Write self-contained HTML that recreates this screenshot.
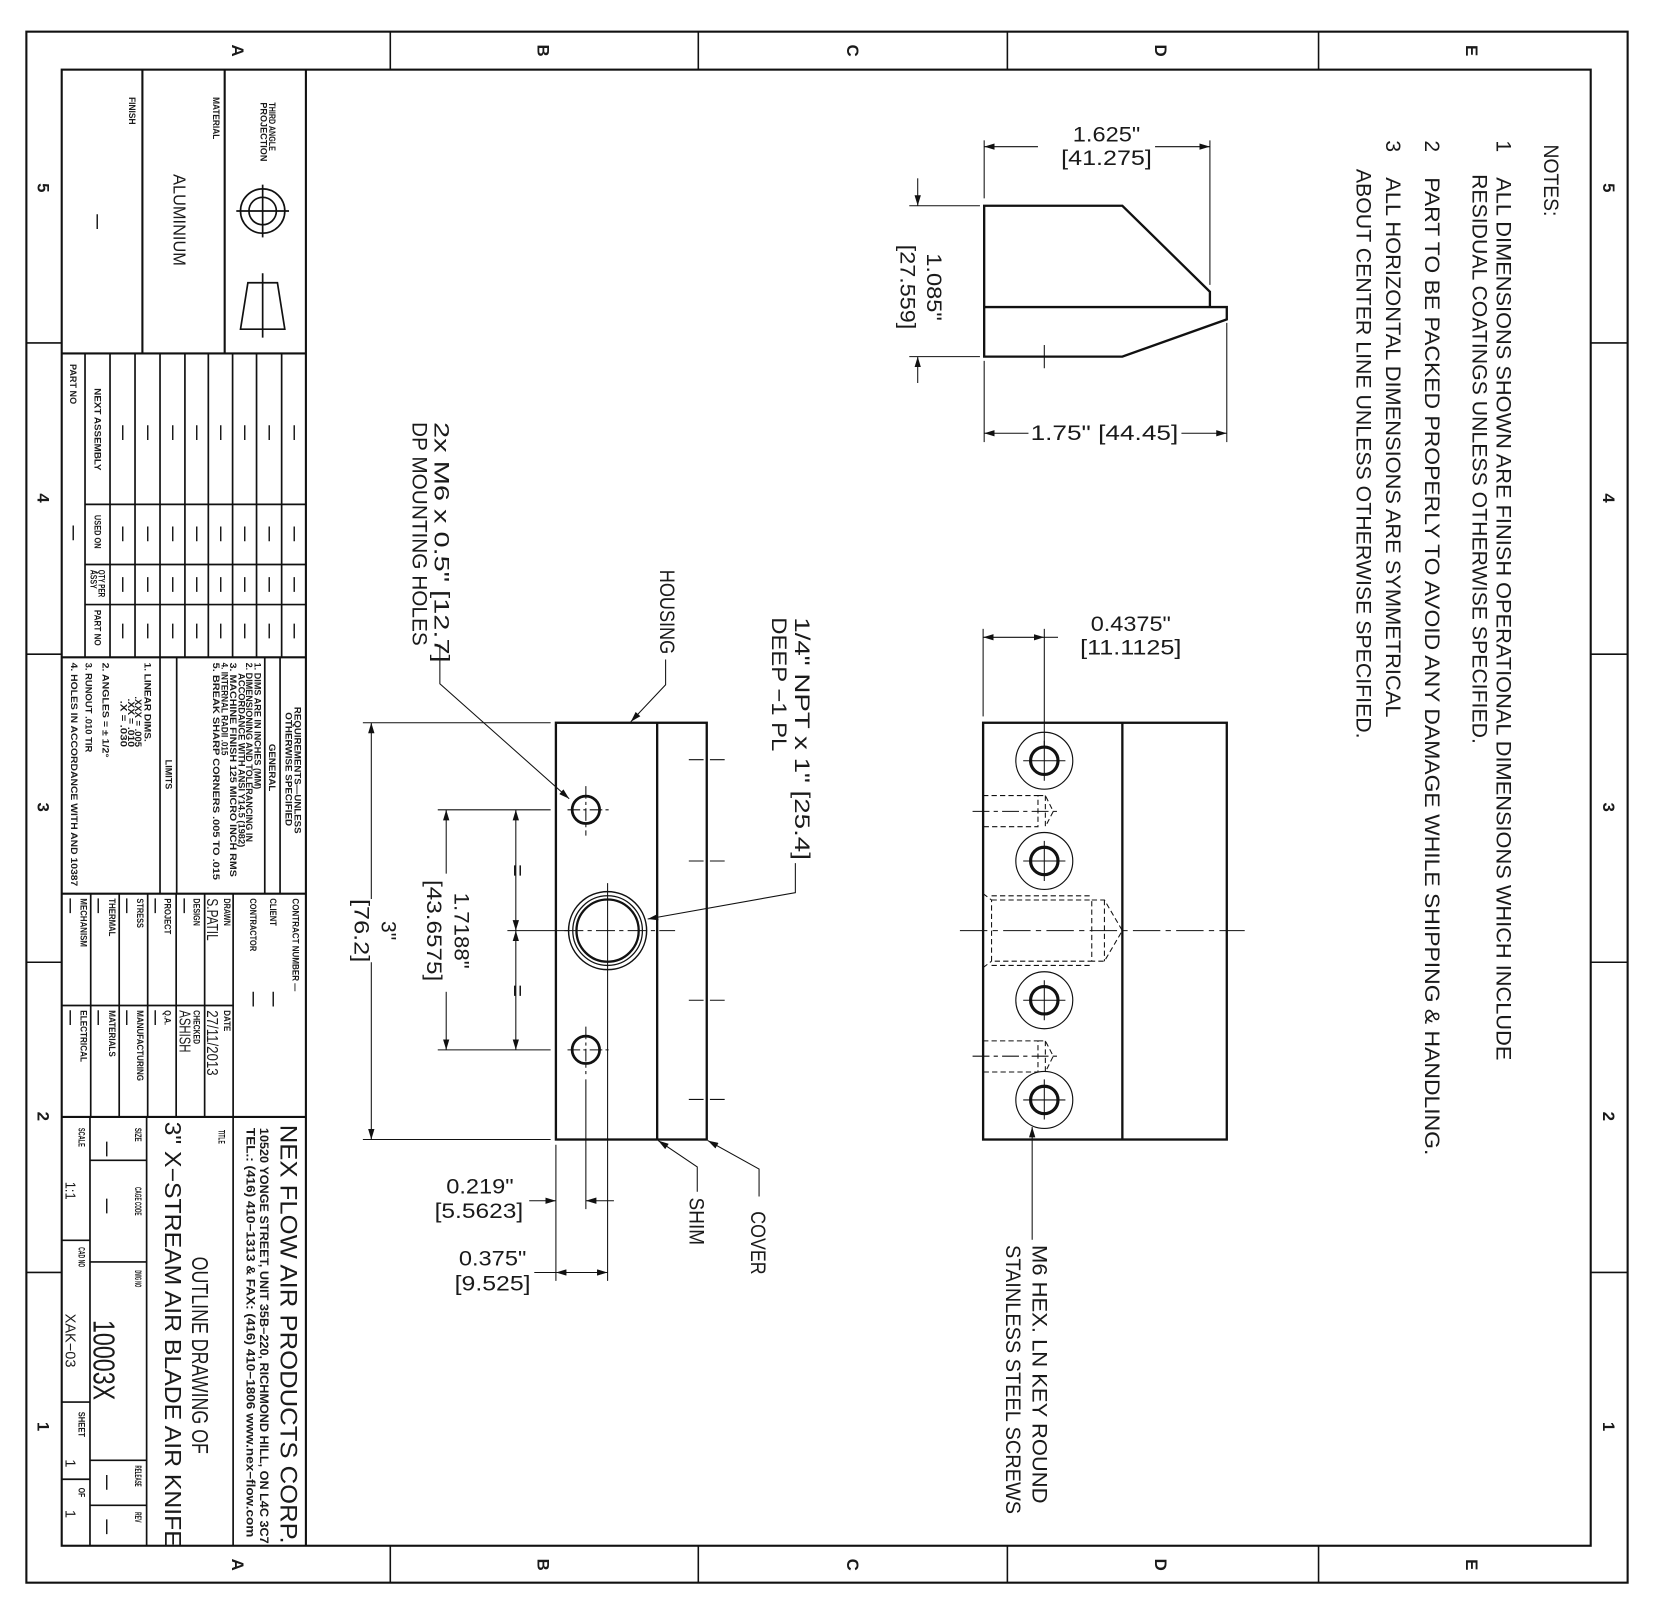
<!DOCTYPE html>
<html><head><meta charset="utf-8"><style>
html,body{margin:0;padding:0;background:#fff}
svg{display:block}
text{font-family:"Liberation Sans",sans-serif;fill:#1a1a1a}
.d{font-size:20px}
.b{font-size:8.5px;font-weight:bold}
.bl{font-size:14px;font-weight:bold}
.z{font-size:16px;font-weight:bold}
</style></head><body>
<svg width="1654" height="1608" viewBox="0 0 1568 1524" preserveAspectRatio="none" xmlns="http://www.w3.org/2000/svg">
<defs>
<marker id="a" viewBox="0 0 10 6" refX="10" refY="3" markerWidth="10" markerHeight="6" markerUnits="userSpaceOnUse" orient="auto-start-reverse"><path d="M0,0 L10,3 L0,6z" fill="#111"/></marker>
</defs>
<rect width="1568" height="1524" fill="#fff"/>
<g fill="none" stroke="#111">
<!-- borders -->
<rect x="25" y="30" width="1518" height="1470" stroke-width="2"/>
<rect x="58.5" y="66" width="1449.5" height="1399" stroke-width="2"/>
<g stroke-width="1.5">
<line x1="370" y1="30" x2="370" y2="66"/><line x1="662" y1="30" x2="662" y2="66"/><line x1="955" y1="30" x2="955" y2="66"/><line x1="1250" y1="30" x2="1250" y2="66"/>
<line x1="370" y1="1465" x2="370" y2="1500"/><line x1="662" y1="1465" x2="662" y2="1500"/><line x1="955" y1="1465" x2="955" y2="1500"/><line x1="1250" y1="1465" x2="1250" y2="1500"/>
<line x1="25" y1="325" x2="58" y2="325"/><line x1="25" y1="620" x2="58" y2="620"/><line x1="25" y1="912" x2="58" y2="912"/><line x1="25" y1="1206" x2="58" y2="1206"/>
<line x1="1508" y1="325" x2="1543" y2="325"/><line x1="1508" y1="620" x2="1543" y2="620"/><line x1="1508" y1="912" x2="1543" y2="912"/><line x1="1508" y1="1206" x2="1543" y2="1206"/>
</g>
<!-- title block -->
<g stroke-width="2">
<line x1="290" y1="66" x2="290" y2="1465"/>
<line x1="58" y1="335" x2="290" y2="335"/>
<line x1="58" y1="623" x2="290" y2="623"/>
<line x1="58" y1="847" x2="290" y2="847"/>
<line x1="58" y1="1058.6" x2="290" y2="1058.6"/>
<line x1="135" y1="66" x2="135" y2="335"/>
<line x1="213" y1="66" x2="213" y2="335"/>
</g>
<g stroke-width="1.6">
<line x1="80.6" y1="335" x2="80.6" y2="623"/>
<line x1="104.3" y1="335" x2="104.3" y2="623"/>
<line x1="128" y1="335" x2="128" y2="623"/>
<line x1="151.7" y1="335" x2="151.7" y2="623"/>
<line x1="175.3" y1="335" x2="175.3" y2="623"/>
<line x1="197.5" y1="335" x2="197.5" y2="623"/>
<line x1="220.5" y1="335" x2="220.5" y2="623"/>
<line x1="243.2" y1="335" x2="243.2" y2="623"/>
<line x1="267" y1="335" x2="267" y2="623"/>
<line x1="80.6" y1="478" x2="290" y2="478"/>
<line x1="80.6" y1="535" x2="290" y2="535"/>
<line x1="80.6" y1="573" x2="290" y2="573"/>
<!-- requirements -->
<line x1="265.5" y1="623" x2="265.5" y2="847"/>
<line x1="251" y1="623" x2="251" y2="847"/>
<line x1="167.5" y1="623" x2="167.5" y2="847"/>
<line x1="151.7" y1="623" x2="151.7" y2="847"/>
<!-- contract -->
<line x1="86" y1="847" x2="86" y2="1058.6"/>
<line x1="113" y1="847" x2="113" y2="1058.6"/>
<line x1="140" y1="847" x2="140" y2="1058.6"/>
<line x1="167" y1="847" x2="167" y2="1058.6"/>
<line x1="194" y1="847" x2="194" y2="1058.6"/>
<line x1="221" y1="847" x2="221" y2="1058.6"/>
<line x1="58" y1="953" x2="221" y2="953"/>
<!-- title area -->
<line x1="221" y1="1058.6" x2="221" y2="1465"/>
<line x1="139" y1="1058.6" x2="139" y2="1465"/>
<line x1="85.3" y1="1058.6" x2="85.3" y2="1465"/>
<line x1="85.3" y1="1099.7" x2="139" y2="1099.7"/>
<line x1="85.3" y1="1196" x2="139" y2="1196"/>
<line x1="85.3" y1="1384" x2="139" y2="1384"/>
<line x1="85.3" y1="1426.7" x2="139" y2="1426.7"/>
<line x1="58" y1="1175.5" x2="85.3" y2="1175.5"/>
<line x1="58" y1="1328.8" x2="85.3" y2="1328.8"/>
<line x1="58" y1="1402" x2="85.3" y2="1402"/>
</g>
<!-- projection symbol -->
<g stroke-width="1.6">
<circle cx="249" cy="200" r="21"/><circle cx="249" cy="200" r="13"/>
<line x1="224" y1="200" x2="274" y2="200"/><line x1="249" y1="175" x2="249" y2="225"/>
<polygon points="235,268 263,268 270,312 228,312"/>
<line x1="249" y1="259" x2="249" y2="320"/>
</g>

<!-- SIDE VIEW -->
<g stroke-width="2.2">
<polyline points="933,291 933,195 1064,195 1147,276.5 1147,291"/>
<polygon points="933,291 1163,291 1163,302.7 1064,338 933,338"/>
</g>
<g stroke-width="1">
<line x1="990" y1="327" x2="990" y2="349"/>
<line x1="933" y1="133" x2="933" y2="188"/>
<line x1="1147" y1="133" x2="1147" y2="270"/>
<line x1="933" y1="139" x2="984" y2="139" marker-start="url(#a)"/>
<line x1="1095" y1="139" x2="1147" y2="139" marker-end="url(#a)"/>
<line x1="862" y1="195" x2="929" y2="195"/>
<line x1="862" y1="338" x2="929" y2="338"/>
<line x1="870" y1="169" x2="870" y2="195" marker-end="url(#a)"/>
<line x1="870" y1="363" x2="870" y2="338" marker-end="url(#a)"/>
<line x1="933" y1="342" x2="933" y2="419"/>
<line x1="1163" y1="306" x2="1163" y2="419"/>
<line x1="933" y1="410.6" x2="975" y2="410.6" marker-start="url(#a)"/>
<line x1="1120" y1="410.6" x2="1163" y2="410.6" marker-end="url(#a)"/>
</g>

<!-- HOUSING VIEW -->
<g stroke-width="2.2">
<rect x="527" y="685" width="143" height="395"/>
<line x1="623" y1="685" x2="623" y2="1080"/>
<circle cx="555.4" cy="767.5" r="13" stroke-width="2.6"/>
<circle cx="555.4" cy="995" r="13" stroke-width="2.6"/>
<circle cx="576" cy="882" r="37" stroke-width="1.4"/>
<circle cx="576" cy="882" r="33" stroke-width="1.2"/>
<circle cx="576" cy="882" r="29.5" stroke-width="2.2"/>
</g>
<g stroke-width="1">
<line x1="538" y1="767.5" x2="580" y2="767.5" stroke-dasharray="12 3 3 3"/><line x1="555.4" y1="745" x2="555.4" y2="792" stroke-dasharray="12 3 3 3"/>
<line x1="538" y1="995" x2="580" y2="995" stroke-dasharray="12 3 3 3"/><line x1="555.4" y1="973" x2="555.4" y2="1018" stroke-dasharray="12 3 3 3"/>
<line x1="535" y1="882" x2="640" y2="882" stroke-dasharray="18 4 4 4"/>
<line x1="576" y1="837" x2="576" y2="1214" stroke-dasharray="none"/>
<line x1="555.4" y1="1023" x2="555.4" y2="1146"/>
<line x1="653" y1="720" x2="690" y2="720" stroke-dasharray="14 6"/>
<line x1="653" y1="816" x2="690" y2="816" stroke-dasharray="14 6"/>
<line x1="653" y1="948" x2="690" y2="948" stroke-dasharray="14 6"/>
<line x1="653" y1="1042" x2="690" y2="1042" stroke-dasharray="14 6"/>
<!-- 3in dim -->
<line x1="344" y1="685" x2="522" y2="685"/><line x1="344" y1="1080" x2="522" y2="1080"/>
<line x1="352" y1="852" x2="352" y2="685" marker-end="url(#a)"/>
<line x1="352" y1="912" x2="352" y2="1080" marker-end="url(#a)"/>
<!-- 1.7188 -->
<line x1="415" y1="767.5" x2="522" y2="767.5"/><line x1="415" y1="995" x2="522" y2="995"/>
<line x1="423" y1="828" x2="423" y2="767.5" marker-end="url(#a)"/>
<line x1="423" y1="940" x2="423" y2="995" marker-end="url(#a)"/>
<!-- = dims -->
<line x1="481" y1="882" x2="540" y2="882"/>
<line x1="489" y1="767.5" x2="489" y2="882" marker-start="url(#a)" marker-end="url(#a)" stroke-dasharray="none"/>
<line x1="489" y1="882" x2="489" y2="995" marker-start="url(#a)" marker-end="url(#a)"/>
<!-- leaders -->
<polyline points="417,611 417,648 539.6,757" marker-end="url(#a)"/>
<polyline points="631,625 631,649 598,684" marker-end="url(#a)"/>
<polyline points="754,818 754,846 614,871" marker-end="url(#a)"/>
<polyline points="661,1129.5 661,1106 624,1081" marker-end="url(#a)"/>
<polyline points="719.6,1134 719.6,1108 671,1081" marker-end="url(#a)"/>
<!-- 0.219 / 0.375 -->
<line x1="527" y1="1085" x2="527" y2="1214"/>
<line x1="501.7" y1="1138" x2="527" y2="1138" marker-end="url(#a)"/>
<line x1="582" y1="1138" x2="555.4" y2="1138" marker-end="url(#a)"/>
<line x1="506.5" y1="1206" x2="576" y2="1206" marker-end="url(#a)"/>
<line x1="550" y1="1206" x2="527" y2="1206" marker-end="url(#a)"/>
</g>

<!-- FRONT VIEW -->
<g stroke-width="2.2">
<rect x="932" y="685" width="231" height="395"/>
<line x1="1064" y1="685" x2="1064" y2="1080"/>
</g>
<g stroke-width="1.1">
<circle cx="990" cy="721" r="27"/><circle cx="990" cy="816" r="27"/><circle cx="990" cy="948" r="27"/><circle cx="990" cy="1042.5" r="27"/>
</g>
<g stroke-width="3">
<circle cx="990" cy="721" r="13"/><circle cx="990" cy="816" r="13"/><circle cx="990" cy="948" r="13"/><circle cx="990" cy="1042.5" r="13"/>
</g>
<g stroke-width="1">
<path d="M970,721h40M990,702v38M970,816h40M990,797v38M970,948h40M990,929v38M970,1042.5h40M990,1023v38"/>
<g stroke-dasharray="5 3">
<path d="M932,754H984V783.5H932M984,754L991,754L998.5,769L991,783.5M991,754V783.5"/>
<path d="M932,986.5H984V1016H932M984,986.5L991,986.5L998.5,1001L991,1016M991,986.5V1016"/>
<path d="M940,853H1035V911H940ZM932,847L940,853M932,917L940,911M1035,853H1047L1064,882L1047,911H1035M1047,853V911M940,849H1035M940,915H1035"/>
</g>
<line x1="922" y1="769" x2="1003" y2="769" stroke-dasharray="16 4 4 4"/>
<line x1="922" y1="1001" x2="1003" y2="1001" stroke-dasharray="16 4 4 4"/>
<line x1="910" y1="882" x2="1180" y2="882" stroke-dasharray="26 5 5 5"/>
<line x1="932" y1="596" x2="932" y2="679"/>
<line x1="990" y1="596" x2="990" y2="708"/>
<line x1="932" y1="604" x2="990" y2="604" marker-start="url(#a)" marker-end="url(#a)"/>
<line x1="990" y1="604" x2="1003" y2="604"/>
<line x1="978.5" y1="1175" x2="978.5" y2="1068" marker-end="url(#a)"/>
</g>
</g>

<!-- zone labels -->
<g class="z">
<text transform="translate(225,48) rotate(90)" text-anchor="middle" dominant-baseline="central">A</text>
<text transform="translate(515,48) rotate(90)" text-anchor="middle" dominant-baseline="central">B</text>
<text transform="translate(808,48) rotate(90)" text-anchor="middle" dominant-baseline="central">C</text>
<text transform="translate(1100,48) rotate(90)" text-anchor="middle" dominant-baseline="central">D</text>
<text transform="translate(1395,48) rotate(90)" text-anchor="middle" dominant-baseline="central">E</text>
<text transform="translate(225,1483) rotate(90)" text-anchor="middle" dominant-baseline="central">A</text>
<text transform="translate(515,1483) rotate(90)" text-anchor="middle" dominant-baseline="central">B</text>
<text transform="translate(808,1483) rotate(90)" text-anchor="middle" dominant-baseline="central">C</text>
<text transform="translate(1100,1483) rotate(90)" text-anchor="middle" dominant-baseline="central">D</text>
<text transform="translate(1395,1483) rotate(90)" text-anchor="middle" dominant-baseline="central">E</text>
<text transform="translate(41,178) rotate(90)" text-anchor="middle" dominant-baseline="central">5</text>
<text transform="translate(41,472) rotate(90)" text-anchor="middle" dominant-baseline="central">4</text>
<text transform="translate(41,765) rotate(90)" text-anchor="middle" dominant-baseline="central">3</text>
<text transform="translate(41,1058) rotate(90)" text-anchor="middle" dominant-baseline="central">2</text>
<text transform="translate(41,1352) rotate(90)" text-anchor="middle" dominant-baseline="central">1</text>
<text transform="translate(1525,178) rotate(90)" text-anchor="middle" dominant-baseline="central">5</text>
<text transform="translate(1525,472) rotate(90)" text-anchor="middle" dominant-baseline="central">4</text>
<text transform="translate(1525,765) rotate(90)" text-anchor="middle" dominant-baseline="central">3</text>
<text transform="translate(1525,1058) rotate(90)" text-anchor="middle" dominant-baseline="central">2</text>
<text transform="translate(1525,1352) rotate(90)" text-anchor="middle" dominant-baseline="central">1</text>
</g>

<!-- NOTES -->
<g class="d" dominant-baseline="central" lengthAdjust="spacingAndGlyphs">
<text transform="translate(1470,137) rotate(90)" textLength="68" lengthAdjust="spacingAndGlyphs">NOTES:</text>
<text transform="translate(1425,133) rotate(90)">1</text>
<text transform="translate(1425,168) rotate(90)" textLength="837" lengthAdjust="spacingAndGlyphs">ALL DIMENSIONS SHOWN ARE FINISH OPERATIONAL DIMENSIONS WHICH INCLUDE</text>
<text transform="translate(1402,165) rotate(90)" textLength="540" lengthAdjust="spacingAndGlyphs">RESIDUAL COATINGS UNLESS OTHERWISE SPECIFIED.</text>
<text transform="translate(1357,133) rotate(90)">2</text>
<text transform="translate(1357,168) rotate(90)" textLength="927" lengthAdjust="spacingAndGlyphs">PART TO BE PACKED PROPERLY TO AVOID ANY DAMAGE WHILE SHIPPING &amp; HANDLING.</text>
<text transform="translate(1320,133) rotate(90)">3</text>
<text transform="translate(1320,168) rotate(90)" textLength="512" lengthAdjust="spacingAndGlyphs">ALL HORIZONTAL DIMENSIONS ARE SYMMETRICAL</text>
<text transform="translate(1292,160) rotate(90)" textLength="540" lengthAdjust="spacingAndGlyphs">ABOUT CENTER LINE UNLESS OTHERWISE SPECIFIED.</text>

<!-- view labels -->
<text transform="translate(418,400) rotate(90)" textLength="228" lengthAdjust="spacingAndGlyphs">2x M6 x 0.5" [12.7]</text>
<text transform="translate(397,400) rotate(90)" textLength="212" lengthAdjust="spacingAndGlyphs">DP MOUNTING HOLES</text>
<text transform="translate(632,540) rotate(90)" textLength="80" lengthAdjust="spacingAndGlyphs">HOUSING</text>
<text transform="translate(760,585) rotate(90)" textLength="230" lengthAdjust="spacingAndGlyphs">1/4" NPT x 1" [25.4]</text>
<text transform="translate(738,585) rotate(90)" textLength="127" lengthAdjust="spacingAndGlyphs">DEEP −1 PL</text>
<text transform="translate(660,1135) rotate(90)" textLength="45" lengthAdjust="spacingAndGlyphs">SHIM</text>
<text transform="translate(718,1148) rotate(90)" textLength="60" lengthAdjust="spacingAndGlyphs">COVER</text>
<text transform="translate(985,1180) rotate(90)" textLength="245" lengthAdjust="spacingAndGlyphs">M6 HEX. LN KEY ROUND</text>
<text transform="translate(960,1180) rotate(90)" textLength="255" lengthAdjust="spacingAndGlyphs">STAINLESS STEEL SCREWS</text>
<text transform="translate(368,882) rotate(90)" text-anchor="middle">3"</text>
<text transform="translate(342,882) rotate(90)" text-anchor="middle" textLength="60" lengthAdjust="spacingAndGlyphs">[76.2]</text>
<text transform="translate(437,882) rotate(90)" text-anchor="middle" textLength="72" lengthAdjust="spacingAndGlyphs">1.7188"</text>
<text transform="translate(411,882) rotate(90)" text-anchor="middle" textLength="96" lengthAdjust="spacingAndGlyphs">[43.6575]</text>
<text transform="translate(490,825) rotate(90)" text-anchor="middle">=</text>
<text transform="translate(490,939) rotate(90)" text-anchor="middle">=</text>
<text transform="translate(885,272) rotate(90)" text-anchor="middle" textLength="64" lengthAdjust="spacingAndGlyphs">1.085"</text>
<text transform="translate(860,272) rotate(90)" text-anchor="middle" textLength="80" lengthAdjust="spacingAndGlyphs">[27.559]</text>
</g>
<g class="d" text-anchor="middle" dominant-baseline="central">
<text x="1049" y="128" textLength="64" lengthAdjust="spacingAndGlyphs">1.625"</text>
<text x="1049" y="150" textLength="86" lengthAdjust="spacingAndGlyphs">[41.275]</text>
<text x="1047" y="411" textLength="140" lengthAdjust="spacingAndGlyphs">1.75"  [44.45]</text>
<text x="1072" y="592" textLength="76" lengthAdjust="spacingAndGlyphs">0.4375"</text>
<text x="1072" y="614" textLength="96" lengthAdjust="spacingAndGlyphs">[11.1125]</text>
<text x="455" y="1125" textLength="64" lengthAdjust="spacingAndGlyphs">0.219"</text>
<text x="454" y="1148" textLength="84" lengthAdjust="spacingAndGlyphs">[5.5623]</text>
<text x="467" y="1193" textLength="64" lengthAdjust="spacingAndGlyphs">0.375"</text>
<text x="467" y="1217" textLength="72" lengthAdjust="spacingAndGlyphs">[9.525]</text>
</g>

<!-- title block text -->
<g dominant-baseline="central">
<text class="b" transform="translate(258,97) rotate(90)" textLength="46" lengthAdjust="spacingAndGlyphs">THIRD ANGLE</text>
<text class="b" transform="translate(250,97) rotate(90)" textLength="56" lengthAdjust="spacingAndGlyphs">PROJECTION</text>
<text class="b" transform="translate(205,92) rotate(90)" textLength="40" lengthAdjust="spacingAndGlyphs">MATERIAL</text>
<text class="d" style="font-size:17px" transform="translate(170,165) rotate(90)" textLength="87" lengthAdjust="spacingAndGlyphs">ALUMINIUM</text>
<text class="b" transform="translate(125,92) rotate(90)" textLength="26" lengthAdjust="spacingAndGlyphs">FINISH</text>
<text class="bl" transform="translate(92,210) rotate(90)" text-anchor="middle">—</text>

<text class="b" transform="translate(69,345) rotate(90)" textLength="38" lengthAdjust="spacingAndGlyphs">PART NO</text>
<text class="bl" transform="translate(69,505) rotate(90)" text-anchor="middle">—</text>
<text class="b" transform="translate(92.5,368) rotate(90)" textLength="78" lengthAdjust="spacingAndGlyphs">NEXT ASSEMBLY</text>
<text class="b" transform="translate(92.5,488) rotate(90)" textLength="32" lengthAdjust="spacingAndGlyphs">USED ON</text>
<text class="b" transform="translate(96,540) rotate(90)" textLength="26" lengthAdjust="spacingAndGlyphs">QTY PER</text>
<text class="b" transform="translate(88.5,540) rotate(90)" textLength="18" lengthAdjust="spacingAndGlyphs">ASSY</text>
<text class="b" transform="translate(92.5,578) rotate(90)" textLength="34" lengthAdjust="spacingAndGlyphs">PART NO</text>
</g>
<g class="bl" text-anchor="middle" dominant-baseline="central">
<text transform="translate(116,410) rotate(90)">—</text><text transform="translate(140,410) rotate(90)">—</text><text transform="translate(163.5,410) rotate(90)">—</text><text transform="translate(186.4,410) rotate(90)">—</text><text transform="translate(209,410) rotate(90)">—</text><text transform="translate(232,410) rotate(90)">—</text><text transform="translate(255,410) rotate(90)">—</text><text transform="translate(278.5,410) rotate(90)">—</text>
<text transform="translate(116,506) rotate(90)">—</text><text transform="translate(140,506) rotate(90)">—</text><text transform="translate(163.5,506) rotate(90)">—</text><text transform="translate(186.4,506) rotate(90)">—</text><text transform="translate(209,506) rotate(90)">—</text><text transform="translate(232,506) rotate(90)">—</text><text transform="translate(255,506) rotate(90)">—</text><text transform="translate(278.5,506) rotate(90)">—</text>
<text transform="translate(116,554) rotate(90)">—</text><text transform="translate(140,554) rotate(90)">—</text><text transform="translate(163.5,554) rotate(90)">—</text><text transform="translate(186.4,554) rotate(90)">—</text><text transform="translate(209,554) rotate(90)">—</text><text transform="translate(232,554) rotate(90)">—</text><text transform="translate(255,554) rotate(90)">—</text><text transform="translate(278.5,554) rotate(90)">—</text>
<text transform="translate(116,598) rotate(90)">—</text><text transform="translate(140,598) rotate(90)">—</text><text transform="translate(163.5,598) rotate(90)">—</text><text transform="translate(186.4,598) rotate(90)">—</text><text transform="translate(209,598) rotate(90)">—</text><text transform="translate(232,598) rotate(90)">—</text><text transform="translate(255,598) rotate(90)">—</text><text transform="translate(278.5,598) rotate(90)">—</text>
</g>

<!-- requirements -->
<g class="b" dominant-baseline="central">
<text transform="translate(282,670) rotate(90)" textLength="120" lengthAdjust="spacingAndGlyphs">REQUIREMENTS—UNLESS</text>
<text transform="translate(273.5,675) rotate(90)" textLength="108" lengthAdjust="spacingAndGlyphs">OTHERWISE SPECIFIED</text>
<text transform="translate(258,705) rotate(90)" textLength="45" lengthAdjust="spacingAndGlyphs">GENERAL</text>
<text transform="translate(244,628) rotate(90)" textLength="120" lengthAdjust="spacingAndGlyphs">1. DIMS ARE IN INCHES (MM)</text>
<text transform="translate(236,628) rotate(90)" textLength="170" lengthAdjust="spacingAndGlyphs">2. DIMENSIONING AND TOLERANCING IN</text>
<text transform="translate(229,638) rotate(90)" textLength="165" lengthAdjust="spacingAndGlyphs">ACCORDANCE WITH ANSI Y14.5 (1982)</text>
<text transform="translate(221,628) rotate(90)" textLength="203" lengthAdjust="spacingAndGlyphs">3. MACHINE FINISH 125 MICRO INCH RMS</text>
<text transform="translate(213,628) rotate(90)" textLength="88" lengthAdjust="spacingAndGlyphs">4. INTERNAL RADII .015</text>
<text transform="translate(205,628) rotate(90)" textLength="206" lengthAdjust="spacingAndGlyphs">5. BREAK SHARP CORNERS .005 TO .015</text>
<text transform="translate(159.6,720) rotate(90)" textLength="28" lengthAdjust="spacingAndGlyphs">LIMITS</text>
<text transform="translate(140,628) rotate(90)" textLength="75" lengthAdjust="spacingAndGlyphs">1. LINEAR DIMS.</text>
<text transform="translate(131,660) rotate(90)" textLength="48" lengthAdjust="spacingAndGlyphs">.XXX = .005</text>
<text transform="translate(124,662) rotate(90)" textLength="46" lengthAdjust="spacingAndGlyphs">.XX = .010</text>
<text transform="translate(117,664) rotate(90)" textLength="44" lengthAdjust="spacingAndGlyphs">.X = .030</text>
<text transform="translate(100,628) rotate(90)" textLength="90" lengthAdjust="spacingAndGlyphs">2. ANGLES  = ± 1/2°</text>
<text transform="translate(84,628) rotate(90)" textLength="85" lengthAdjust="spacingAndGlyphs">3. RUNOUT .010 TIR</text>
<text transform="translate(70,628) rotate(90)" textLength="212" lengthAdjust="spacingAndGlyphs">4. HOLES IN ACCORDANCE WITH AND 10387</text>
</g>

<!-- contract -->
<g class="b" dominant-baseline="central">
<text transform="translate(280,851.5) rotate(90)" textLength="88" lengthAdjust="spacingAndGlyphs">CONTRACT NUMBER —</text>
<text transform="translate(259,851.5) rotate(90)" textLength="26" lengthAdjust="spacingAndGlyphs">CLIENT</text>
<text transform="translate(240,851.5) rotate(90)" textLength="50" lengthAdjust="spacingAndGlyphs">CONTRACTOR</text>
<text transform="translate(215,851.5) rotate(90)" textLength="26" lengthAdjust="spacingAndGlyphs">DRAWN</text>
<text transform="translate(186.4,851.5) rotate(90)" textLength="26" lengthAdjust="spacingAndGlyphs">DESIGN</text>
<text transform="translate(159,851.5) rotate(90)" textLength="34" lengthAdjust="spacingAndGlyphs">PROJECT</text>
<text transform="translate(132.7,851.5) rotate(90)" textLength="28" lengthAdjust="spacingAndGlyphs">STRESS</text>
<text transform="translate(106,851.5) rotate(90)" textLength="36" lengthAdjust="spacingAndGlyphs">THERMAL</text>
<text transform="translate(79,851.5) rotate(90)" textLength="46" lengthAdjust="spacingAndGlyphs">MECHANISM</text>
<text transform="translate(215,957.5) rotate(90)" textLength="20" lengthAdjust="spacingAndGlyphs">DATE</text>
<text transform="translate(186.4,957.5) rotate(90)" textLength="32" lengthAdjust="spacingAndGlyphs">CHECKED</text>
<text transform="translate(159,957.5) rotate(90)" textLength="14" lengthAdjust="spacingAndGlyphs">Q.A.</text>
<text transform="translate(132.7,957.5) rotate(90)" textLength="67" lengthAdjust="spacingAndGlyphs">MANUFACTURING</text>
<text transform="translate(106,957.5) rotate(90)" textLength="44" lengthAdjust="spacingAndGlyphs">MATERIALS</text>
<text transform="translate(79,957.5) rotate(90)" textLength="49" lengthAdjust="spacingAndGlyphs">ELECTRICAL</text>
</g>
<g class="bl" dominant-baseline="central">
<text transform="translate(200.6,851.5) rotate(90)" textLength="40" lengthAdjust="spacingAndGlyphs" style="font-weight:normal;font-size:15px">S.PATIL</text>
<text transform="translate(200.6,957.5) rotate(90)" textLength="62" lengthAdjust="spacingAndGlyphs" style="font-weight:normal;font-size:15px">27/11/2013</text>
<text transform="translate(174.5,957.5) rotate(90)" textLength="40" lengthAdjust="spacingAndGlyphs" style="font-weight:normal;font-size:15px">ASHISH</text>
<text transform="translate(259,940) rotate(90)">—</text>
<text transform="translate(240,940) rotate(90)">—</text>
<text transform="translate(174.5,851.5) rotate(90)">—</text>
<text transform="translate(147,851.5) rotate(90)">—</text>
<text transform="translate(120,851.5) rotate(90)">—</text>
<text transform="translate(93,851.5) rotate(90)">—</text>
<text transform="translate(66.4,851.5) rotate(90)">—</text>
<text transform="translate(147,957.5) rotate(90)">—</text>
<text transform="translate(120,957.5) rotate(90)">—</text>
<text transform="translate(93,957.5) rotate(90)">—</text>
<text transform="translate(66.4,957.5) rotate(90)">—</text>
</g>

<!-- title area -->
<g dominant-baseline="central">
<text class="d" style="font-size:23px" transform="translate(273,1066) rotate(90)" textLength="397" lengthAdjust="spacingAndGlyphs">NEX FLOW AIR PRODUCTS CORP.</text>
<text class="b" style="font-size:11px" transform="translate(249.6,1069) rotate(90)" textLength="394" lengthAdjust="spacingAndGlyphs">10520 YONGE STREET, UNIT 35B−220, RICHMOND HILL, ON L4C 3C7</text>
<text class="b" style="font-size:11px" transform="translate(237,1069) rotate(90)" textLength="388" lengthAdjust="spacingAndGlyphs">TEL.: (416) 410−1313 &amp; FAX: (416) 410−1806 www.nex−flow.com</text>
<text class="b" transform="translate(210,1071) rotate(90)" textLength="13" lengthAdjust="spacingAndGlyphs">TITLE</text>
<text class="d" style="font-size:22px" transform="translate(189.6,1191) rotate(90)" textLength="187" lengthAdjust="spacingAndGlyphs">OUTLINE DRAWING OF</text>
<text class="d" style="font-size:22px" transform="translate(164,1063) rotate(90)" textLength="403" lengthAdjust="spacingAndGlyphs">3" X−STREAM AIR BLADE AIR KNIFE</text>
<text class="b" transform="translate(131,1069) rotate(90)" textLength="13" lengthAdjust="spacingAndGlyphs">SIZE</text>
<text class="b" transform="translate(131,1125) rotate(90)" textLength="27" lengthAdjust="spacingAndGlyphs">CAGE CODE</text>
<text class="b" transform="translate(131,1204) rotate(90)" textLength="16" lengthAdjust="spacingAndGlyphs">DWG NO</text>
<text class="b" transform="translate(131,1389) rotate(90)" textLength="20" lengthAdjust="spacingAndGlyphs">RELEASE</text>
<text class="b" transform="translate(131,1433) rotate(90)" textLength="10" lengthAdjust="spacingAndGlyphs">REV</text>
<text class="bl" transform="translate(101,1082) rotate(90)">—</text>
<text class="bl" transform="translate(101,1136) rotate(90)">—</text>
<text class="bl" transform="translate(101,1398) rotate(90)">—</text>
<text class="bl" transform="translate(101,1440) rotate(90)">—</text>
<text class="d" style="font-size:29px" transform="translate(98,1251) rotate(90)" textLength="76" lengthAdjust="spacingAndGlyphs">10003X</text>
<text class="b" transform="translate(77.4,1069) rotate(90)" textLength="18" lengthAdjust="spacingAndGlyphs">SCALE</text>
<text class="bl" style="font-weight:normal" transform="translate(66,1120) rotate(90)" textLength="17" lengthAdjust="spacingAndGlyphs">1:1</text>
<text class="b" transform="translate(77.4,1182) rotate(90)" textLength="19" lengthAdjust="spacingAndGlyphs">CAD NO</text>
<text class="bl" style="font-weight:normal" transform="translate(66,1245) rotate(90)" textLength="51" lengthAdjust="spacingAndGlyphs">XAK−03</text>
<text class="b" transform="translate(77.4,1338) rotate(90)" textLength="24" lengthAdjust="spacingAndGlyphs">SHEET</text>
<text class="bl" style="font-weight:normal" transform="translate(66,1383) rotate(90)">1</text>
<text class="b" transform="translate(77.4,1410) rotate(90)" textLength="9" lengthAdjust="spacingAndGlyphs">OF</text>
<text class="bl" style="font-weight:normal" transform="translate(66,1431) rotate(90)">1</text>
</g>
</svg>
</body></html>
